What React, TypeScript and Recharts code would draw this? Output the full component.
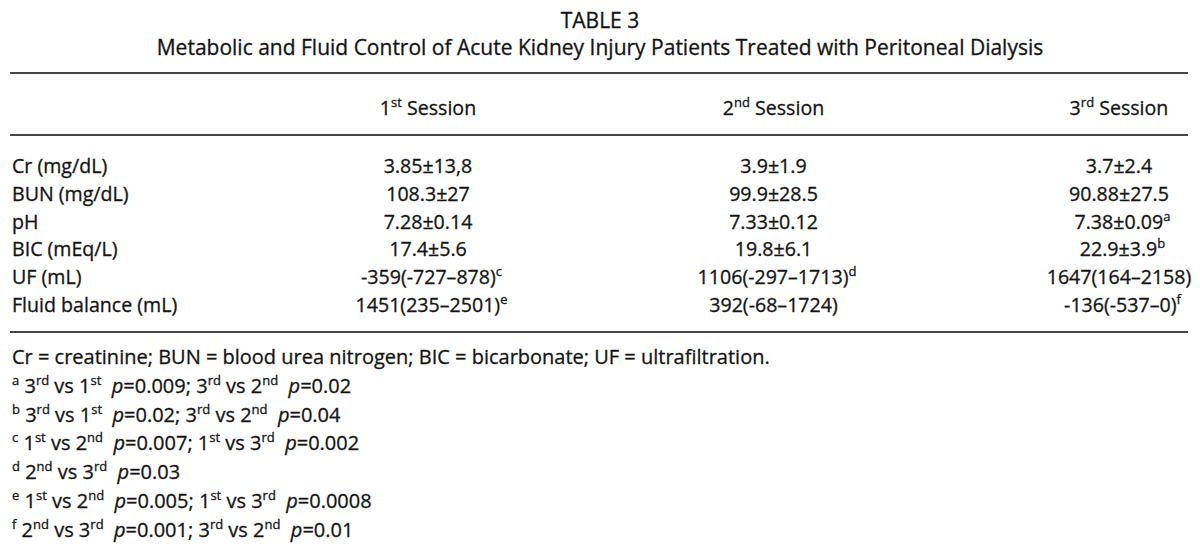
import React from 'react';
import { ScatterChart, Scatter, XAxis, YAxis, Customized } from 'recharts';

// ---------- data ----------
const titleText = 'TABLE 3';
const subtitleText =
  'Metabolic and Fluid Control of Acute Kidney Injury Patients Treated with Peritoneal Dialysis';

const sessions = ['1^st^ Session', '2^nd^ Session', '3^rd^ Session'];

const rowLabels = [
  'Cr (mg/dL)',
  'BUN (mg/dL)',
  'pH',
  'BIC (mEq/L)',
  'UF (mL)',
  'Fluid balance (mL)',
];

const session1Values = ['3.85±13,8', '108.3±27', '7.28±0.14', '17.4±5.6', '-359(-727–878)', '1451(235–2501)'];
const session1Notes = ['', '', '', '', 'c', 'e'];

const session2Values = ['3.9±1.9', '99.9±28.5', '7.33±0.12', '19.8±6.1', '1106(-297–1713)', '392(-68–1724)'];
const session2Notes = ['', '', '', '', 'd', ''];

const session3Values = ['3.7±2.4', '90.88±27.5', '7.38±0.09', '22.9±3.9', '1647(164–2158)', '-136(-537–0)'];
const session3Notes = ['', '', 'a', 'b', '', 'f'];

const footnotes = [
  'Cr = creatinine; BUN = blood urea nitrogen; BIC = bicarbonate; UF = ultrafiltration.',
  '^a^ 3^rd^ vs 1^st^  _p_=0.009; 3^rd^ vs 2^nd^  _p_=0.02',
  '^b^ 3^rd^ vs 1^st^  _p_=0.02; 3^rd^ vs 2^nd^  _p_=0.04',
  '^c^ 1^st^ vs 2^nd^  _p_=0.007; 1^st^ vs 3^rd^  _p_=0.002',
  '^d^ 2^nd^ vs 3^rd^  _p_=0.03',
  '^e^ 1^st^ vs 2^nd^  _p_=0.005; 1^st^ vs 3^rd^  _p_=0.0008',
  '^f^ 2^nd^ vs 3^rd^  _p_=0.001; 3^rd^ vs 2^nd^  _p_=0.01',
];

// ---------- build table cells ----------
const sessionValues = [session1Values, session2Values, session3Values];
const sessionNotes = [session1Notes, session2Notes, session3Notes];

const cells = rowLabels.flatMap((row, r) =>
  sessions.map((session, s) => ({
    row,
    session,
    text: sessionValues[s][r],
    note: sessionNotes[s][r],
  }))
);

// ---------- styles ----------
const FONT = '"Open Sans", Lato, sans-serif';
const FS = 19.6;
const FS_TITLE = 21;
const FS_NOTE = 20;
const INK = '#141414';
const RULE = '#464646';

function renderRich(str: string, fs: number) {
  const parts = str.split(/(\^[^^]*\^|_[^_]*_)/).filter((s) => s.length > 0);
  let shift = 0;
  const supShift = Math.round(fs * 0.4);
  return parts.map((p, i) => {
    if (p.length > 1 && p[0] === '^' && p[p.length - 1] === '^') {
      const dy = -supShift - shift;
      shift = -supShift;
      return (
        <tspan key={i} dy={dy} fontSize={Math.round(fs * 0.66)}>
          {p.slice(1, -1)}
        </tspan>
      );
    }
    const dy = -shift;
    shift = 0;
    if (p.length > 1 && p[0] === '_' && p[p.length - 1] === '_') {
      return (
        <tspan key={i} dy={dy || undefined} fontStyle="italic">
          {p.slice(1, -1)}
        </tspan>
      );
    }
    return (
      <tspan key={i} dy={dy || undefined}>
        {p}
      </tspan>
    );
  });
}

const baseText = {
  fontFamily: FONT,
  fill: INK,
  stroke: INK,
  strokeWidth: 0.3,
  fontWeight: 400,
  style: { whiteSpace: 'pre' as const },
};

const CAP = Math.round(FS * 0.36);

const CellText = (props: any) => {
  const { cx, cy, payload } = props;
  if (cx == null || cy == null || !payload) return null;
  const str = payload.text + (payload.note ? `^${payload.note}^` : '');
  return (
    <text x={cx + (payload.note ? 3.5 : 0)} y={cy + CAP} textAnchor="middle" fontSize={FS} {...baseText}>
      {renderRich(str, FS)}
    </text>
  );
};

const HeadTick = (props: any) => {
  const { x, y, payload, index } = props;
  if (index != null && index >= sessions.length) return null;
  return (
    <text x={x} y={y} textAnchor="middle" fontSize={FS} {...baseText}>
      {renderRich(String(payload.value), FS)}
    </text>
  );
};

const RowTick = (props: any) => {
  const { x, y, payload } = props;
  return (
    <text x={x} y={y + CAP} textAnchor="start" fontSize={FS} {...baseText}>
      {payload.value}
    </text>
  );
};

const TitleAndNotes = () => (
  <g>
    <text x={600} y={28} textAnchor="middle" fontSize={FS_TITLE} {...baseText}>
      {titleText}
    </text>
    <text x={600} y={55} textAnchor="middle" fontSize={FS_TITLE} {...baseText}>
      {subtitleText}
    </text>
    {footnotes.map((f, i) => (
      <text key={i} x={12} y={364 + i * 28.8} textAnchor="start" fontSize={FS_NOTE} {...baseText}>
        {renderRich(f, FS_NOTE)}
      </text>
    ))}
  </g>
);

export default function App() {
  return (
    <div style={{ position: 'absolute', left: 0, top: 0, width: 1200, height: 551, background: '#fff' }}>
      <ScatterChart width={1200} height={551} margin={{ top: 72, right: 12, bottom: 218, left: 10 }}>
        <XAxis
          xAxisId="head"
          orientation="top"
          type="category"
          dataKey="session"
          allowDuplicatedCategory={false}
          scale="point"
          ticks={sessions}
          padding={{ left: 418, right: 69 }}
          height={62}
          tickSize={0}
          tickMargin={20}
          tickLine={false}
          axisLine={{ stroke: RULE, strokeWidth: 2 }}
          tick={<HeadTick />}
          interval={0}
        />
        <XAxis
          xAxisId="rule"
          orientation="top"
          type="category"
          dataKey="session"
          allowDuplicatedCategory={false}
          scale="point"
          height={1}
          tick={false}
          tickLine={false}
          axisLine={{ stroke: RULE, strokeWidth: 2 }}
        />
        <XAxis
          xAxisId="foot"
          orientation="bottom"
          type="category"
          dataKey="session"
          allowDuplicatedCategory={false}
          scale="point"
          height={1}
          tick={false}
          tickLine={false}
          axisLine={{ stroke: RULE, strokeWidth: 2 }}
        />
        <YAxis
          yAxisId="rows"
          type="category"
          dataKey="row"
          allowDuplicatedCategory={false}
          scale="point"
          reversed
          mirror
          width={1}
          padding={{ top: 31, bottom: 27 }}
          tickSize={0}
          tickMargin={2}
          tickLine={false}
          axisLine={false}
          tick={<RowTick />}
          interval={0}
        />
        <Scatter
          xAxisId="head"
          yAxisId="rows"
          data={cells}
          isAnimationActive={false}
          shape={(p: any) => <CellText {...p} />}
        />
        <Customized component={TitleAndNotes} />
      </ScatterChart>
    </div>
  );
}
